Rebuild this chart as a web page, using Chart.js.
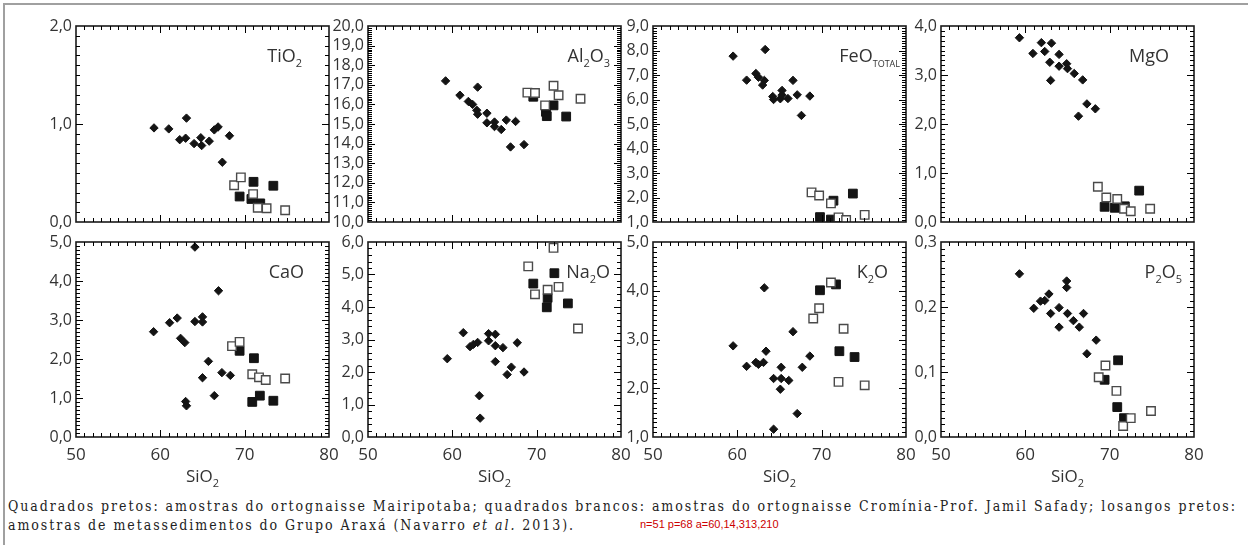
<!DOCTYPE html>
<html><head><meta charset="utf-8">
<script src="https://cdn.jsdelivr.net/npm/chart.js@4/dist/chart.umd.min.js"></script>
<style>
html,body{margin:0;padding:0;background:#fff;}
#fig{position:relative;width:1248px;height:545px;overflow:hidden;background:#fff;}
#frameTop{position:absolute;left:3px;top:3px;width:1245px;height:2px;background:#a0a0a0;}
#frameLeft{position:absolute;left:3px;top:3px;width:2px;height:542px;background:#a0a0a0;}
canvas{position:absolute;}
#caption{position:absolute;left:8px;top:497px;font-family:"DejaVu Serif",serif;font-stretch:condensed;font-size:14px;line-height:19px;color:#222;white-space:nowrap;}
#dbg{position:absolute;left:640px;top:518px;font:11px sans-serif;color:#c00;white-space:nowrap;}
</style></head>
<body><div id="fig"><div id="frameTop"></div><div id="frameLeft"></div>
<div id="caption"><span id="cap1">Quadrados pretos: amostras do ortognaisse Mairipotaba; quadrados brancos: amostras do ortognaisse Cromínia-Prof. Jamil Safady; losangos pretos:</span><br><span id="cap2">amostras de metassedimentos do Grupo Araxá (Navarro <i>et al.</i> 2013).</span></div>
<div id="dbg"></div>
</div>
<script>
// ---------- DATA ----------
const seriesNames = ['Cromínia-Prof. Jamil Safady', 'Mairipotaba', 'Grupo Araxá'];
const xTitle = 'SiO2';
const xTicks = [50, 60, 70, 80];
const oxides = ['TiO2', 'Al2O3', 'FeOTOTAL', 'MgO', 'CaO', 'Na2O', 'K2O', 'P2O5'];
const yMins = [0, 10, 1, 0, 0, 0, 1, 0];
const yMaxs = [2, 20, 9, 4, 5, 6, 5, 0.3];
const yMajorSteps = [1, 1, 1, 1, 1, 1, 1, 0.1];
const yMinorSteps = [0.1, 0.1, 0.1, 0.1, 0.1, 0.2, 0.1, 0.01];

// [SiO2, oxide] pairs
const tio2Araxa = [[59.25,0.96],[61.0,0.95],[63.1,1.06],[62.3,0.84],[63.0,0.855],[64.0,0.80],[64.8,0.86],[64.9,0.78],[65.8,0.825],[66.4,0.94],[66.85,0.97],[68.2,0.88],[67.35,0.61]];
const tio2Mairi = [[69.4,0.26],[71.05,0.41],[73.4,0.37],[70.8,0.235],[71.85,0.19]];
const tio2Cromi = [[68.75,0.375],[69.55,0.455],[71.0,0.285],[71.55,0.145],[72.6,0.14],[74.8,0.12]];

const al2o3Araxa = [[59.2,17.2],[60.9,16.47],[61.9,16.15],[62.4,16.0],[63.0,16.88],[62.9,15.7],[63.0,15.5],[64.1,15.55],[64.1,15.06],[65.0,15.1],[65.0,14.87],[65.8,14.72],[66.4,15.2],[67.5,15.13],[66.9,13.83],[68.5,13.95]];
const al2o3Mairi = [[69.6,16.39],[71.1,15.62],[71.2,15.4],[72.0,15.95],[73.5,15.38]];
const al2o3Cromi = [[68.9,16.6],[69.8,16.58],[71.0,15.95],[72.0,16.95],[72.6,16.47],[75.2,16.29]];

const feoAraxa = [[59.5,7.77],[61.1,6.79],[62.2,7.06],[62.5,6.91],[63.2,6.78],[63.0,6.59],[63.3,8.04],[64.2,6.12],[64.3,6.0],[65.1,6.03],[65.3,6.37],[65.3,6.18],[66.0,6.04],[66.6,6.78],[67.1,6.19],[68.6,6.14],[67.6,5.35]];
const feoMairi = [[69.8,1.2],[71.1,1.1],[71.4,1.87],[72.1,1.0],[73.7,2.16]];
const feoCromi = [[68.8,2.21],[69.7,2.08],[71.1,1.76],[72.0,1.19],[72.9,1.08],[75.1,1.29]];

const mgoAraxa = [[59.3,3.76],[60.9,3.44],[61.9,3.66],[63.1,3.65],[62.3,3.48],[62.9,3.26],[64.0,3.42],[64.0,3.18],[64.9,3.23],[65.0,3.13],[65.8,3.03],[66.8,2.90],[63.0,2.89],[67.3,2.41],[68.3,2.31],[66.3,2.16]];
const mgoMairi = [[69.4,0.31],[70.6,0.29],[71.8,0.32],[73.5,0.64]];
const mgoCromi = [[68.6,0.72],[69.6,0.50],[70.9,0.47],[71.7,0.27],[72.5,0.22],[74.8,0.27]];

const caoAraxa = [[64.1,4.87],[66.9,3.75],[59.2,2.70],[61.1,2.93],[62.0,3.05],[62.4,2.53],[62.9,2.42],[64.1,2.96],[65.0,3.08],[65.0,2.95],[65.7,1.94],[65.0,1.52],[67.3,1.65],[68.3,1.58],[66.4,1.06],[63.0,0.91],[63.1,0.80]];
const caoMairi = [[69.4,2.21],[71.1,2.02],[70.9,0.90],[71.8,1.06],[73.4,0.93]];
const caoCromi = [[68.5,2.33],[69.4,2.44],[70.9,1.61],[71.7,1.53],[72.5,1.46],[74.8,1.50]];

const na2oAraxa = [[59.4,2.41],[61.3,3.21],[62.1,2.78],[62.5,2.85],[63.0,2.91],[63.2,1.27],[63.3,0.58],[64.3,3.18],[64.3,2.96],[65.1,3.16],[65.1,2.81],[65.1,2.32],[66.0,2.75],[67.7,2.90],[67.0,2.15],[66.5,1.92],[68.5,2.00]];
const na2oMairi = [[69.6,4.72],[72.1,5.04],[71.3,4.28],[71.2,3.99],[73.7,4.11]];
const na2oCromi = [[69.0,5.25],[72.0,5.82],[69.8,4.39],[71.3,4.53],[72.6,4.62],[74.9,3.34]];

const k2oAraxa = [[59.5,2.87],[61.1,2.45],[62.2,2.53],[62.5,2.49],[63.1,2.53],[63.2,4.06],[63.4,2.76],[64.3,2.20],[64.3,1.16],[65.2,2.43],[65.2,2.20],[65.1,1.98],[66.1,2.16],[66.6,3.16],[67.7,2.43],[67.1,1.48],[68.6,2.66]];
const k2oMairi = [[69.8,4.01],[71.7,4.13],[72.1,2.76],[73.9,2.64]];
const k2oCromi = [[69.0,3.43],[69.7,3.64],[71.1,4.17],[72.6,3.22],[72.0,2.13],[75.1,2.06]];

const p2o5Araxa = [[59.3,0.251],[61.0,0.198],[61.8,0.209],[62.3,0.210],[62.8,0.220],[63.0,0.190],[64.0,0.199],[64.0,0.169],[64.9,0.240],[64.9,0.230],[65.0,0.190],[65.7,0.179],[66.4,0.169],[66.9,0.190],[68.4,0.149],[67.3,0.128]];
const p2o5Mairi = [[71.0,0.118],[69.4,0.088],[70.9,0.046],[71.7,0.029]];
const p2o5Cromi = [[69.5,0.110],[68.7,0.092],[70.8,0.071],[71.6,0.017],[72.5,0.029],[74.9,0.040]];

const panelData = [
  [tio2Cromi, tio2Mairi, tio2Araxa],
  [al2o3Cromi, al2o3Mairi, al2o3Araxa],
  [feoCromi, feoMairi, feoAraxa],
  [mgoCromi, mgoMairi, mgoAraxa],
  [caoCromi, caoMairi, caoAraxa],
  [na2oCromi, na2oMairi, na2oAraxa],
  [k2oCromi, k2oMairi, k2oAraxa],
  [p2o5Cromi, p2o5Mairi, p2o5Araxa]
];

// ---------- LAYOUT / STYLE ----------
const colLeft = [76, 368, 653, 941];
const rowTop = [26, 242];
const rowH = [196, 195];
const PW = 253;
const AXW = 60, PADT = 14, PADR = 18, XH_TOP = 14, XH_BOT = 60;
const labelRightGap = [27, 11, 6, 25, 25, 11, 18, 12];
const labelBaseline = 36;
const FONT = '"Open Sans", "Noto Sans", sans-serif';

const labelParts = {
  'TiO2': [['TiO',0],['2',1]],
  'Al2O3': [['Al',0],['2',1],['O',0],['3',1]],
  'FeOTOTAL': [['FeO',0],['TOTAL',2]],
  'MgO': [['MgO',0]],
  'CaO': [['CaO',0]],
  'Na2O': [['Na',0],['2',1],['O',0]],
  'K2O': [['K',0],['2',1],['O',0]],
  'P2O5': [['P',0],['2',1],['O',0],['5',1]],
  'SiO2': [['SiO',0],['2',1]]
};

function drawParts(ctx, parts, x, y, size, align) {
  const fonts = [size + 'px ' + FONT, Math.round(size*0.62) + 'px ' + FONT, Math.round(size*0.5) + 'px ' + FONT];
  const shifts = [0, size*0.3, size*0.3];
  let total = 0;
  const widths = parts.map(p => { ctx.font = fonts[p[1]]; const w = ctx.measureText(p[0]).width; total += w; return w; });
  let cx = align === 'right' ? x - total : (align === 'center' ? x - total/2 : x);
  ctx.textBaseline = 'alphabetic'; ctx.textAlign = 'left';
  parts.forEach((p, k) => { ctx.font = fonts[p[1]]; ctx.fillText(p[0], cx, y + shifts[p[1]]); cx += widths[k]; });
}

const panelCfg = [];
const dbgInfo = [];

// inward major/minor tick marks on all four sides, placed through the chart's scales
const tickPlugin = {
  id: 'inTicks',
  afterDraw(chart) {
    const ctx = chart.ctx, a = chart.chartArea;
    const cfg = panelCfg[chart.$panelIndex];
    const xs = chart.scales.x, ys = chart.scales.y;
    ctx.save();
    ctx.fillStyle = '#000000';
    let cnt = 0, firstP = null;
    function tickSet(scale, min, max, step, len, horiz) {
      const n = Math.round((max - min) / step);
      for (let k = 1; k < n; k++) {
        const p = Math.round(scale.getPixelForValue(min + k * step));
        if (firstP === null) firstP = p;
        cnt++;
        if (horiz) {
          ctx.fillRect(p, Math.round(a.bottom) - len, 1, len);
          ctx.fillRect(p, Math.round(a.top), 1, len);
        } else {
          ctx.fillRect(Math.round(a.left), p, len, 1);
          ctx.fillRect(Math.round(a.right) - len, p, len, 1);
        }
      }
    }
    tickSet(xs, cfg.xmin, cfg.xmax, 1, 4, true);
    tickSet(xs, cfg.xmin, cfg.xmax, 10, 7, true);
    tickSet(ys, cfg.ymin, cfg.ymax, cfg.minor, 4, false);
    tickSet(ys, cfg.ymin, cfg.ymax, cfg.major, 7, false);
    ctx.restore();
    if (chart.$panelIndex === 0) dbgInfo.push('n=' + cnt + ' p=' + firstP + ' a=' + [a.left, a.top, a.right, a.bottom].join(','));
  }
};

const boxPlugin = {
  id: 'box',
  afterDatasetsDraw(chart) {
    const ctx = chart.ctx, a = chart.chartArea;
    const cfg = panelCfg[chart.$panelIndex];
    ctx.save();
    ctx.strokeStyle = '#1a1a1a';
    ctx.lineWidth = 1.6;
    ctx.strokeRect(a.left, a.top, a.right - a.left, a.bottom - a.top);
    ctx.fillStyle = '#333';
    drawParts(ctx, labelParts[cfg.label], a.right - cfg.gap, a.top + labelBaseline, 18, 'right');
    if (cfg.title) drawParts(ctx, labelParts[cfg.title], (a.left + a.right) / 2, a.bottom + 45, 17, 'center');
    ctx.restore();
  }
};

const fmt = v => (Math.round(v * 100) / 100).toFixed(1).replace('.', ',');

const fig = document.getElementById('fig');
oxides.forEach((ox, i) => {
  const r = Math.floor(i / 4), c = i % 4;
  const bottom = r === 1;
  panelCfg[i] = { xmin: xTicks[0], xmax: xTicks[xTicks.length - 1], ymin: yMins[i], ymax: yMaxs[i],
                  major: yMajorSteps[i], minor: yMinorSteps[i], label: ox, gap: labelRightGap[i], title: bottom ? xTitle : null };
  const xh = bottom ? XH_BOT : XH_TOP;
  const w = AXW + PW + PADR, h = PADT + rowH[r] + xh;
  const cv = document.createElement('canvas');
  cv.width = w; cv.height = h;
  cv.style.left = (colLeft[c] - AXW) + 'px';
  cv.style.top = (rowTop[r] - PADT) + 'px';
  cv.style.width = w + 'px'; cv.style.height = h + 'px';
  fig.appendChild(cv);
  const d = panelData[i];
  new Chart(cv, {
    type: 'scatter',
    data: {
      datasets: [
        { label: seriesNames[0], data: d[0].map(p => ({x: p[0], y: p[1]})), pointStyle: 'rect', pointRadius: 6, backgroundColor: '#ffffff', borderColor: '#4a4a4a', borderWidth: 1.4, order: 0 },
        { label: seriesNames[1], data: d[1].map(p => ({x: p[0], y: p[1]})), pointStyle: 'rect', pointRadius: 6.2, backgroundColor: '#141414', borderColor: '#141414', borderWidth: 1, order: 1 },
        { label: seriesNames[2], data: d[2].map(p => ({x: p[0], y: p[1]})), pointStyle: 'rectRot', pointRadius: 4.2, backgroundColor: '#141414', borderColor: '#141414', borderWidth: 1, order: 2 }
      ]
    },
    options: {
      responsive: false, animation: false, devicePixelRatio: 1,
      layout: { padding: { top: PADT, right: PADR, left: 0, bottom: 0 } },
      plugins: { legend: { display: false }, tooltip: { enabled: false } },
      scales: {
        x: {
          type: 'linear', min: xTicks[0], max: xTicks[xTicks.length - 1],
          afterBuildTicks: s => { s.ticks = xTicks.map(v => ({value: v})); },
          ticks: { display: bottom, padding: 8, color: '#333', font: { family: FONT, size: 17 }, maxRotation: 0, autoSkip: false },
          grid: { display: false, drawTicks: false }, border: { display: false },
          afterFit: s => { s.height = xh; }
        },
        y: {
          type: 'linear', min: yMins[i], max: yMaxs[i],
          ticks: { stepSize: yMajorSteps[i], padding: 4, color: '#333', font: { family: FONT, size: 16 }, autoSkip: false, callback: v => fmt(v) },
          grid: { display: false, drawTicks: false }, border: { display: false },
          afterFit: s => { s.width = AXW; }
        }
      }
    },
    plugins: [{ id: 'panelIdx', beforeInit(ch) { ch.$panelIndex = i; } }, boxPlugin, tickPlugin]
  });
});

// fit caption first line to the reference width via letter spacing
const cap1 = document.getElementById('cap1');
const w1 = cap1.getBoundingClientRect().width;
const ls = (1229 - w1) / cap1.textContent.length;
document.getElementById('caption').style.letterSpacing = ls.toFixed(3) + 'px';
document.getElementById('dbg').textContent = dbgInfo.join(' | ');
</script>
</body></html>
